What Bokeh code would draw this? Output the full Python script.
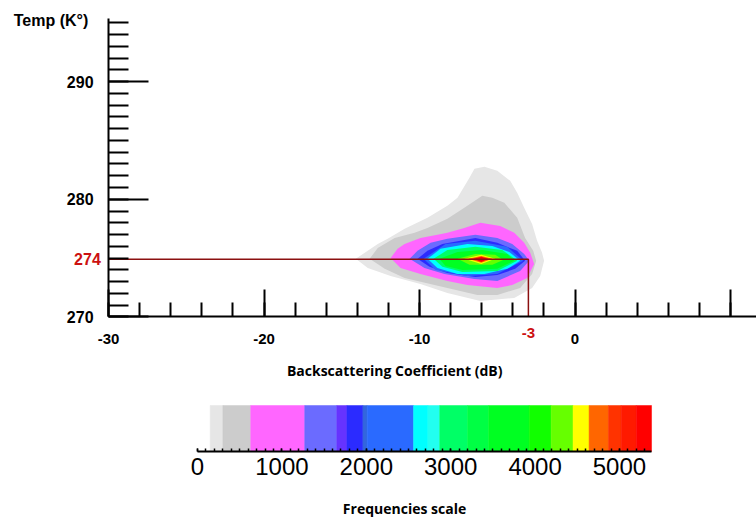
from bokeh.plotting import figure
from bokeh.models import Range1d, SingleIntervalTicker, LinearAxis, Label
from bokeh.layouts import column
from bokeh.embed import file_html
from bokeh.resources import INLINE

# ---------------- data ----------------
# Axis extents (dB, K) and the visible window around them
x_start, x_end = -30, 11.67
y_start, y_end = 270, 295.32
x_view = (-36.95, 11.67)
y_view = (264.18, 296.89)
x_tick_labels = {-30: "-30", -20: "-20", -10: "-10", 0: "0", 10: ""}

# Marked peak: label values and the position where the marker is drawn on the scale
peak_db = -3
peak_temp = 274.9
peak_db_label = "-3"
peak_temp_label = "274"

# Titles and where they sit (data coordinates of their anchor)
x_title = "Backscattering Coefficient (dB)"
x_title_at = (-11.6, 265.45)
y_title = "Temp (K°)"
y_title_at = (-36.1, 295.2)
cb_title = "Frequencies scale"
cb_title_at = (2453, -1.24)

# Frequency-contour polygons of the density (x in dB, y in K), outer to inner
c150_x = [-14.10, -12.69, -12.05, -10.96, -9.49, -8.21, -7.56, -6.79, -6.47, -5.83, -5.00, -4.17, -3.72,
          -3.27, -2.76, -2.44, -2.12, -1.99, -2.24, -2.76, -3.91, -6.09, -8.21, -9.94, -11.86, -13.33]
c150_y = [274.94, 276.21, 276.64, 277.49, 278.43, 279.45, 280.13, 281.83, 282.60, 282.77, 282.43, 281.57, 280.55,
          279.28, 277.91, 276.47, 275.45, 274.77, 273.49, 272.47, 271.62, 271.36, 272.04, 272.81, 273.49, 274.17]
c300_x = [-13.21, -12.69, -11.60, -10.32, -9.49, -8.21, -7.12, -5.96, -5.32, -4.55, -3.72, -3.21, -2.69,
          -2.50, -2.76, -3.53, -5.00, -6.28, -8.21, -10.96, -12.24]
c300_y = [274.94, 275.87, 276.72, 277.15, 277.57, 278.34, 279.28, 280.30, 280.13, 279.70, 278.43, 276.72, 275.62,
          274.77, 273.66, 272.47, 271.87, 271.87, 272.47, 273.32, 274.09]
c630_x = [-11.86, -11.41, -10.96, -9.94, -8.85, -8.21, -7.12, -6.09, -4.81, -3.91, -3.27, -2.88, -2.63,
          -3.08, -4.04, -5.00, -6.92, -8.21, -9.94, -11.22]
c630_y = [275.02, 275.79, 276.21, 276.72, 276.98, 277.15, 277.57, 278.00, 277.74, 277.15, 276.30, 275.45, 274.51,
          273.32, 272.72, 272.47, 272.72, 273.06, 273.66, 274.17]
c1270_x = [-10.64, -10.13, -9.29, -8.21, -6.41, -5.00, -4.04, -3.27, -2.95, -3.53, -5.00, -6.47, -8.40, -9.68]
c1270_y = [274.94, 275.62, 276.30, 276.64, 276.98, 276.72, 276.21, 275.36, 274.77, 273.91, 273.06, 273.23, 273.66, 274.17]
c1770_x = [-10.13, -9.49, -8.53, -6.41, -5.00, -3.72, -3.21, -3.85, -5.00, -6.41, -8.21, -9.36]
c1770_y = [274.94, 275.62, 276.21, 276.72, 276.30, 275.62, 274.77, 274.09, 273.57, 273.40, 273.74, 274.26]
c2010_x = [-9.74, -8.33, -6.41, -4.36, -3.33, -5.00, -6.92, -8.97]
c2010_y = [274.94, 276.21, 276.47, 275.96, 274.77, 273.66, 273.49, 274.00]
c2560_x = [-9.49, -8.65, -6.92, -5.32, -4.23, -3.53, -4.36, -5.83, -7.56, -8.85]
c2560_y = [274.94, 275.79, 276.21, 276.04, 275.53, 274.77, 274.09, 273.66, 273.66, 274.17]
c2870_x = [-9.10, -8.21, -6.41, -4.68, -3.72, -5.00, -7.24, -8.53]
c2870_y = [274.94, 275.70, 275.96, 275.70, 274.77, 273.91, 273.83, 274.26]
c3450_x = [-8.72, -7.56, -5.96, -4.36, -3.91, -5.00, -7.24, -8.33]
c3450_y = [274.94, 275.53, 275.70, 275.36, 274.77, 274.09, 274.00, 274.34]
c4190_x = [-7.56, -6.41, -5.13, -4.62, -5.32, -6.79]
c4190_y = [274.94, 275.36, 275.28, 274.85, 274.43, 274.43]
c4450_x = [-7.12, -6.03, -5.13, -6.03]
c4450_y = [274.94, 275.28, 274.94, 274.51]
c4640_x = [-6.86, -6.03, -5.32, -6.03]
c4640_y = [274.94, 275.19, 274.94, 274.60]
c5200_x = [-6.54, -6.03, -5.58, -6.03]
c5200_y = [274.94, 275.11, 274.94, 274.68]
contour_colors = ["#e6e6e6", "#cccccc", "#ff66ff", "#6b6bff", "#2b2bff", "#2a6aff", "#00ffff",
                  "#00ff66", "#00ff22", "#66ff00", "#ffff00", "#ff6600", "#ff0000"]

# Frequency colour scale
freq_edges = [150, 300, 630, 1270, 1650, 1770, 1960, 2010, 2560, 2730, 2870, 3200, 3450,
              3930, 4190, 4450, 4640, 4870, 5020, 5200, 5380]
freq_colors = ["#e6e6e6", "#cccccc", "#ff66ff", "#6b6bff", "#6633ff", "#2b2bff", "#3366dd", "#2a6aff",
               "#00ffff", "#22fff0", "#00ff66", "#00ff44", "#00ff22", "#11ff00", "#66ff00", "#ffff00",
               "#ff6600", "#ff3300", "#ff1a00", "#ff0000"]
freq_min, freq_max = 0, 5380
freq_view = (-2335, 6624)
bar_view = (-1.435, 1.435)

# ---------------- style ----------------
RED = "#cc1111"
LINE_RED = "#8b1010"
NUM_FONT = "Liberation Sans"
TITLE_FONT = "Open Sans"


def style_axis(ax, tick_in, minor_in, width, size, bold, standoff):
    ax.major_tick_in = tick_in
    ax.major_tick_out = 0
    ax.minor_tick_in = minor_in
    ax.minor_tick_out = 0
    ax.axis_line_width = 2
    ax.axis_line_color = "black"
    ax.major_tick_line_color = "black"
    ax.minor_tick_line_color = "black"
    ax.major_tick_line_width = width
    ax.minor_tick_line_width = width
    ax.major_label_text_font = NUM_FONT
    ax.major_label_text_font_style = "bold" if bold else "normal"
    ax.major_label_text_font_size = size
    ax.major_label_text_color = "black"
    ax.major_label_standoff = standoff


def add_text(fig, x, y, text, color, size, font, align="center", bold=True):
    fig.add_layout(Label(x=x, y=y, text=text, text_color=color, text_font=font,
                         text_font_size=size, text_font_style="bold" if bold else "normal",
                         text_align=align, text_baseline="middle"))


# ---------------- main chart ----------------
main = figure(frame_width=756, frame_height=385,
              x_range=Range1d(*x_view), y_range=Range1d(*y_view),
              x_axis_location=None, y_axis_location=None,
              min_border_left=0, min_border_right=0, min_border_top=0, min_border_bottom=0,
              output_backend="svg", toolbar_location=None)
main.grid.visible = False
main.outline_line_color = None

contour_xs = [c150_x, c300_x, c630_x, c1270_x, c1770_x, c2010_x, c2560_x, c2870_x, c3450_x,
              c4190_x, c4450_x, c4640_x, c5200_x]
contour_ys = [c150_y, c300_y, c630_y, c1270_y, c1770_y, c2010_y, c2560_y, c2870_y, c3450_y,
              c4190_y, c4450_y, c4640_y, c5200_y]
main.patches(xs=contour_xs, ys=contour_ys, fill_color=contour_colors, line_color=None)

main.line(x=[x_start, peak_db, peak_db], y=[peak_temp, peak_temp, y_start],
          line_color=LINE_RED, line_width=1.5)

xa = LinearAxis(fixed_location=y_start, bounds=(x_start, x_end),
                ticker=SingleIntervalTicker(interval=10, num_minor_ticks=5),
                major_label_overrides=x_tick_labels)
style_axis(xa, 27, 14, 2, "15px", True, 17)
main.add_layout(xa, "below")

ya = LinearAxis(fixed_location=x_start, bounds=(y_start, y_end),
                ticker=SingleIntervalTicker(interval=10, num_minor_ticks=10))
style_axis(ya, 40, 20, 2, "16px", True, 15)
main.add_layout(ya, "left")

add_text(main, y_title_at[0], y_title_at[1], y_title, "black", "16px", NUM_FONT, align="left")
add_text(main, -30.5, peak_temp, peak_temp_label, RED, "16px", NUM_FONT, align="right")
add_text(main, peak_db, 268.6, peak_db_label, RED, "15px", NUM_FONT)
add_text(main, x_title_at[0], x_title_at[1], x_title, "black", "14px", TITLE_FONT)

# ---------------- colour scale ----------------
cb = figure(frame_width=756, frame_height=132,
            x_range=Range1d(*freq_view), y_range=Range1d(*bar_view),
            x_axis_location=None, y_axis_location=None,
            min_border_left=0, min_border_right=0, min_border_top=0, min_border_bottom=0,
            output_backend="svg", toolbar_location=None)
cb.grid.visible = False
cb.outline_line_color = None
cb.quad(left=freq_edges[:-1], right=freq_edges[1:], bottom=0, top=1,
        fill_color=freq_colors, line_color=freq_colors, line_width=0.5)

ca = LinearAxis(fixed_location=0, bounds=(freq_min, freq_max),
                ticker=SingleIntervalTicker(interval=1000, num_minor_ticks=10))
style_axis(ca, 3, 3, 1.5, "24px", False, 6)
cb.add_layout(ca, "below")

add_text(cb, cb_title_at[0], cb_title_at[1], cb_title, "black", "14px", TITLE_FONT)

layout = column(main, cb, spacing=0)
open("out.html", "w").write(file_html(layout, INLINE))
